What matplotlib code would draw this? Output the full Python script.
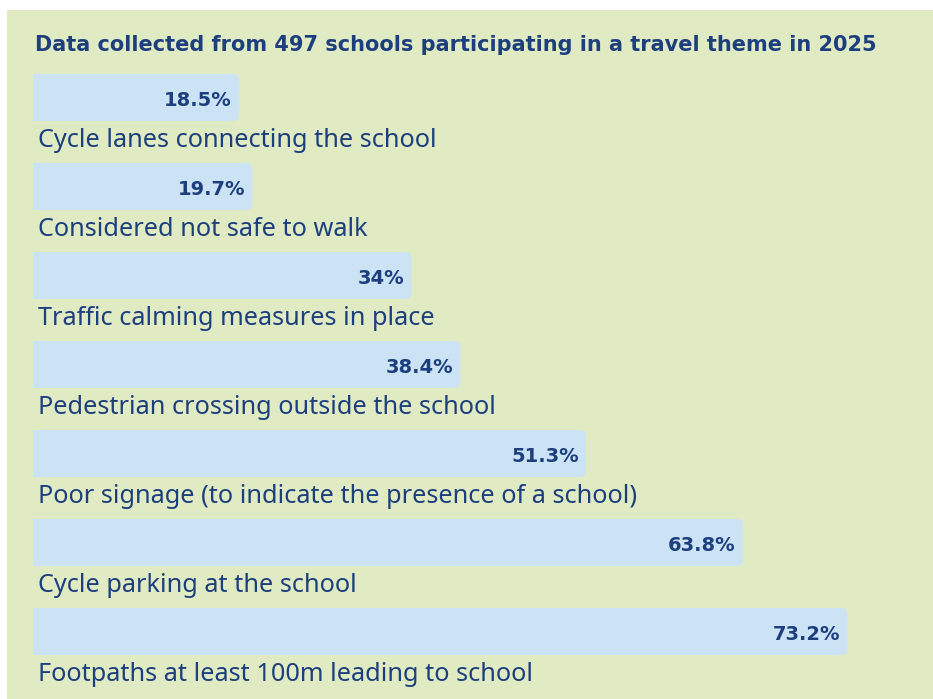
import matplotlib
matplotlib.use("Agg")
import matplotlib.pyplot as plt
from matplotlib.patches import FancyBboxPatch, Rectangle

title = "Data collected from 497 schools participating in a travel theme in 2025"
categories = [
    "Cycle lanes connecting the school",
    "Considered not safe to walk",
    "Traffic calming measures in place",
    "Pedestrian crossing outside the school",
    "Poor signage (to indicate the presence of a school)",
    "Cycle parking at the school",
    "Footpaths at least 100m leading to school",
]
# bar lengths as drawn in the reference (the 51.3% bar is drawn slightly shorter)
values = [18.5, 19.7, 34, 38.4, 49.7, 63.8, 73.2]
value_labels = ["18.5%", "19.7%", "34%", "38.4%", "51.3%", "63.8%", "73.2%"]

BG = "#e0ebc4"
BAR = "#cce3f5"
TXT = "#1d3f7d"

W, H = 933, 699
fig = plt.figure(figsize=(W / 100, H / 100), dpi=100)
fig.patch.set_facecolor("white")
fig.patches.append(Rectangle((7 / W, 0), 1 - 7 / W, 1 - 10 / H,
                             transform=fig.transFigure, facecolor=BG,
                             edgecolor="none", zorder=-5))

pitch = 89.0
x0, x1 = 33, 923
xmax = 80.0
top_px = 97.5 - pitch / 2
n = len(values)
ax = fig.add_axes([x0 / W, 1 - (top_px + n * pitch) / H, (x1 - x0) / W, n * pitch / H])
ax.set_facecolor("none")
ax.set_xlim(0, xmax)
ax.set_ylim(n - 0.5, -0.5)
ax.axis("off")

px_x = (x1 - x0) / xmax
bar_h = 47 / pitch
ypos = list(range(n))
bars = ax.barh(ypos, values, height=bar_h, color=BAR)
r_px = 6
aspect = px_x / pitch
for rect in bars:
    rect.set_visible(False)
    bx, by, bw, bh = rect.get_x(), rect.get_y(), rect.get_width(), rect.get_height()
    p = FancyBboxPatch((bx - 2, by), bw + 2, bh,
                       boxstyle=f"round,pad=0,rounding_size={r_px / px_x}",
                       mutation_aspect=aspect, facecolor=BAR, edgecolor="none")
    ax.add_patch(p)

for i, (v, lab, cat) in enumerate(zip(values, value_labels, categories)):
    ax.annotate(lab, (v, i), xytext=(-7, -3), textcoords="offset pixels",
                ha="right", va="center", fontsize=14, fontweight="bold",
                color=TXT, family="DejaVu Sans")
    ax.annotate(cat, (0, i + bar_h / 2), xytext=(5, -26), textcoords="offset pixels",
                ha="left", va="baseline", fontsize=18.2, color=TXT, family="Noto Sans",
                annotation_clip=False)

fig.text(35 / W, 1 - 45 / H, title, ha="left", va="center", fontsize=15,
         fontweight="bold", color=TXT, family="DejaVu Sans")

fig.savefig("out.png", dpi=100, facecolor=fig.get_facecolor())
